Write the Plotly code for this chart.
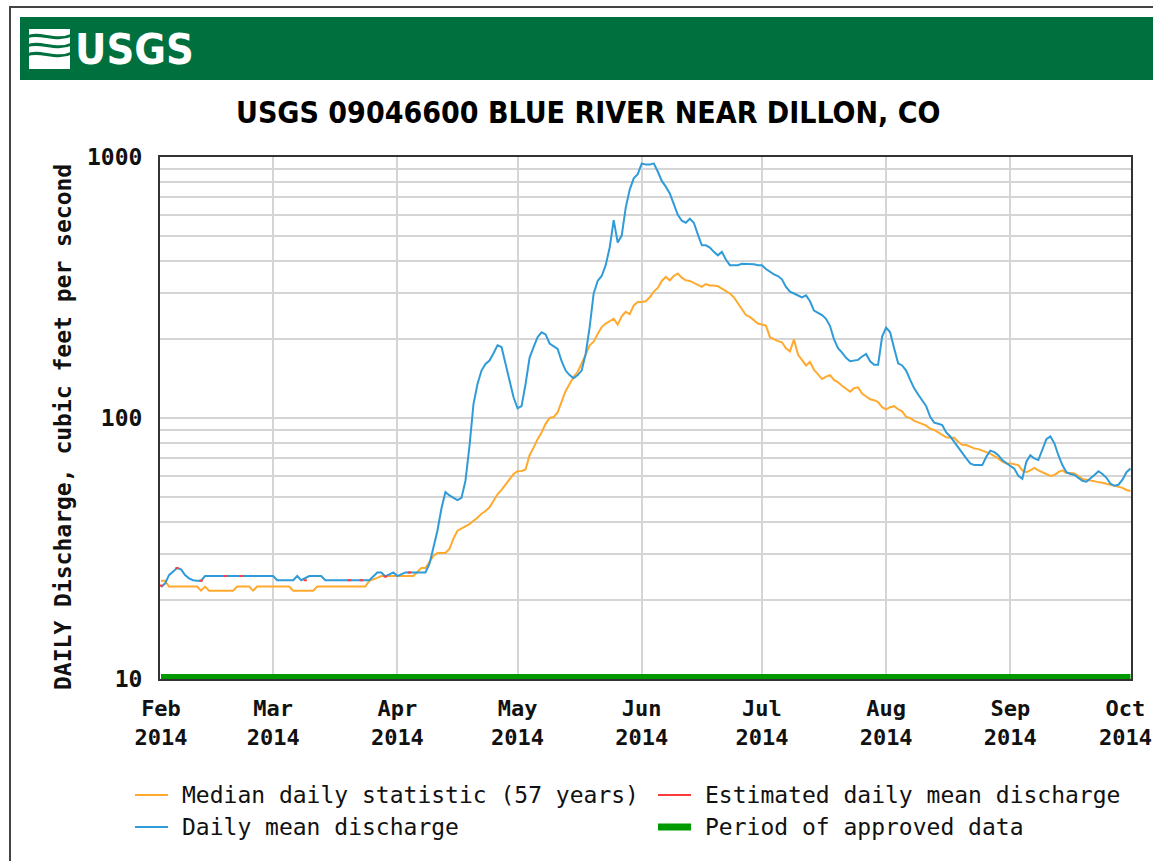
import pandas as pd
import plotly.graph_objects as go

# ---------------- data ----------------
TITLE = "USGS 09046600 BLUE RIVER NEAR DILLON, CO"
Y_TITLE = "DAILY Discharge, cubic feet per second"
START = pd.Timestamp("2014-02-01")

month_ticks = ["2014-02-01", "2014-03-01", "2014-04-01", "2014-05-01", "2014-06-01",
               "2014-07-01", "2014-08-01", "2014-09-01", "2014-10-01"]
month_labels = ["Feb<br>2014", "Mar<br>2014", "Apr<br>2014", "May<br>2014", "Jun<br>2014",
                "Jul<br>2014", "Aug<br>2014", "Sep<br>2014", "Oct<br>2014"]
y_tick_vals = [10, 100, 1000]
y_tick_text = ["10", "100", "1000"]
y_minor_vals = [20, 30, 40, 50, 60, 70, 80, 90, 200, 300, 400, 500, 600, 700, 800, 900]

# Daily mean discharge (days after 2014-02-01, cfs)
mean_days = [0, 1, 2, 3, 4, 5, 6, 7, 8, 9, 10, 11, 28, 29, 33, 34, 35, 37, 40, 41, 52, 54, 55, 56,
             58, 59, 61, 66, 67, 68, 69, 70, 71, 72, 74, 75, 76, 77, 78, 79, 80, 81, 82, 83, 84,
             85, 86, 87, 88, 89, 90, 91, 92, 93, 94, 95, 96, 97, 98, 99, 100, 101, 102, 103, 104,
             105, 106, 107, 108, 109, 110, 111, 112, 113, 114, 115, 116, 117, 118, 119, 120, 121,
             122, 123, 124, 125, 126, 127, 128, 129, 130, 131, 132, 133, 134, 135, 136, 137, 138,
             139, 140, 141, 142, 143, 144, 145, 146, 147, 148, 149, 150, 151, 152, 153, 154, 155,
             156, 157, 158, 159, 160, 161, 162, 163, 164, 165, 166, 167, 168, 169, 170, 171, 172,
             173, 174, 175, 176, 177, 178, 179, 180, 181, 182, 183, 184, 185, 186, 187, 188, 189,
             190, 191, 192, 193, 194, 195, 196, 197, 198, 199, 200, 201, 202, 203, 204, 205, 206,
             207, 208, 209, 210, 211, 212, 213, 214, 215, 216, 217, 218, 219, 220, 221, 222, 223,
             224, 225, 226, 227, 228, 229, 230, 231, 232, 233, 234, 235, 236, 237, 238, 239, 240,
             241, 242]
mean_cfs = [22.5, 23.2, 25.0, 25.8, 26.6, 26.3, 25.0, 24.3, 23.9, 23.8, 23.8, 24.8, 24.8, 23.9,
            23.9, 24.8, 23.9, 24.8, 24.8, 23.9, 23.9, 25.6, 25.6, 24.7, 25.6, 24.8, 25.6, 25.6,
            27.6, 31.9, 37, 45, 52, 50.5, 48.5, 49.4, 57.5, 78, 113, 135, 152, 161, 166, 177, 190,
            187, 162, 140, 120, 109, 111, 135, 170, 187, 204, 213, 209, 193, 188, 184, 165, 152,
            146, 142, 146, 152, 176, 223, 300, 335, 350, 385, 450, 573, 470, 500, 640, 750, 828,
            860, 945, 935, 935, 945, 880, 810, 770, 725, 660, 600, 570, 560, 580, 560, 505, 459,
            459, 450, 433, 420, 433, 405, 385, 385, 385, 390, 390, 390, 388, 385, 385, 372, 362,
            355, 350, 340, 318, 305, 300, 294, 290, 295, 280, 258, 252, 248, 240, 225, 200, 185,
            178, 170, 165, 166, 167, 172, 176, 165, 160, 160, 205, 222, 213, 185, 162, 159, 152,
            140, 130, 123, 117, 111, 101, 96, 95, 94, 88, 85, 81, 77, 74, 70, 67, 66, 66, 66, 71,
            75, 74, 72, 69, 67, 65.5, 64, 60, 58.5, 68, 72, 70, 69, 76, 83, 85, 80, 72, 66, 62,
            61, 60.5, 59, 57.5, 57, 58.5, 60.5, 62.5, 61, 59, 56, 55, 55.5, 58, 62, 64]

# Median daily statistic (57 years)
median_days = [0, 1, 2, 9, 10, 11, 12, 18, 19, 22, 23, 24, 32, 33, 38, 39, 51, 52, 54, 55, 63,
               64, 65, 66, 67, 68, 69, 70, 71, 72, 73, 74, 75, 76, 77, 78, 79, 80, 81, 82, 83, 84,
               85, 86, 87, 88, 89, 90, 91, 92, 93, 94, 95, 96, 97, 98, 99, 100, 101, 102, 103, 104,
               105, 106, 107, 108, 109, 110, 111, 112, 113, 114, 115, 116, 117, 118, 119, 120, 121,
               122, 123, 124, 125, 126, 127, 128, 129, 130, 131, 132, 133, 134, 135, 136, 137, 138,
               139, 140, 141, 142, 143, 144, 145, 146, 147, 148, 149, 150, 151, 152, 153, 154, 155,
               156, 157, 158, 159, 160, 161, 162, 163, 164, 165, 166, 167, 168, 169, 170, 171, 172,
               173, 174, 175, 176, 177, 178, 179, 180, 181, 182, 183, 184, 185, 186, 187, 188, 189,
               190, 191, 192, 193, 194, 195, 196, 197, 198, 199, 200, 201, 202, 203, 204, 205, 206,
               207, 208, 209, 210, 211, 212, 213, 214, 215, 216, 217, 218, 219, 220, 221, 222, 223,
               224, 225, 226, 227, 228, 229, 230, 231, 232, 233, 234, 235, 236, 237, 238, 239, 240,
               241, 242]
median_cfs = [23.8, 23.8, 22.6, 22.6, 21.8, 22.6, 21.8, 21.8, 22.6, 22.6, 21.8, 22.6, 22.6, 21.8,
              21.8, 22.6, 22.6, 23.8, 24.4, 24.8, 24.8, 25.6, 26.6, 26.6, 28, 29.6, 30.4, 30.4,
              30.4, 31.5, 34.5, 37, 37.8, 38.6, 39.2, 40.4, 41.5, 43, 44, 45.5, 48.2, 51, 53, 55.5,
              58.5, 61, 62.5, 62.7, 63.5, 72, 77, 83, 88, 95, 100, 100.8, 105, 115, 127, 135, 144,
              150, 161, 175, 190, 196, 210, 223, 230, 235, 240, 228, 245, 255, 250, 270, 278, 278,
              280, 290, 305, 315, 335, 347, 337, 350, 358, 345, 337, 335, 330, 325, 318, 326, 322,
              322, 320, 313, 306, 300, 290, 275, 260, 248, 244, 237, 230, 228, 226, 204, 200, 197,
              195, 185, 180, 200, 175, 167, 159, 164, 153, 147, 141, 144, 146, 140, 137, 133, 129,
              126, 130, 131, 124, 121, 118, 117, 115, 110, 108, 110, 111, 108, 106, 101, 100, 97.5,
              96.5, 95, 93.5, 91, 90, 88.2, 86, 84.3, 84, 84, 81, 79, 78.8, 77.5, 76.5, 76, 75, 74,
              73, 71.5, 70, 68, 67, 67, 66.5, 66, 63, 62, 63, 64.4, 63, 62, 61, 60, 60.5, 62, 63,
              61.6, 61.5, 61.3, 60, 58.4, 58, 57.5, 57, 56.8, 56.5, 56, 55.5, 55.1, 54.8, 54, 53,
              52.5]

# Estimated daily mean discharge (short red marks on the daily-mean line)
estimated_days = [0, 4, 10, 16, 20, 36, 47, 50, 56, 62]
estimated_cfs = [22.8, 26.6, 23.8, 24.8, 24.8, 23.9, 23.9, 23.9, 24.7, 25.6]

approved_period = ["2014-02-01", "2014-10-01"]
approved_level = [10, 10]

legend_labels = ["Median daily statistic (57 years)", "Estimated daily mean discharge",
                 "Daily mean discharge", "Period of approved data"]

# ---------------- colours / layout ----------------
C_MEDIAN = "#FFAA2E"
C_MEAN = "#2F9BD8"
C_EST = "#FF3B3B"
C_APPROVED = "#009A00"
C_HEADER = "#00703F"
GRID = "#D5D5D5"
MONO = "DejaVu Sans Mono"
NARROW = "DejaVu Sans Condensed, Liberation Sans Narrow, sans-serif"

W, H = 1153, 861
L, R, T, B = 160, 1131, 157, 679


def px(x):
    return (x - L) / (R - L)


def py(y):
    return (B - y) / (B - T)


def to_dates(days):
    return [START + pd.Timedelta(days=d) for d in days]


est_x, est_y = [], []
for d, v in zip(estimated_days, estimated_cfs):
    est_x += [START + pd.Timedelta(hours=24 * d - 10), START + pd.Timedelta(hours=24 * d + 10), None]
    est_y += [v, v, None]

fig = go.Figure()
fig.add_trace(go.Scatter(x=approved_period, y=approved_level, mode="lines",
                         line=dict(color=C_APPROVED, width=10), name=legend_labels[3]))
fig.add_trace(go.Scatter(x=to_dates(median_days), y=median_cfs, mode="lines",
                         line=dict(color=C_MEDIAN, width=2), name=legend_labels[0]))
fig.add_trace(go.Scatter(x=to_dates(mean_days), y=mean_cfs, mode="lines",
                         line=dict(color=C_MEAN, width=2), name=legend_labels[2]))
fig.add_trace(go.Scatter(x=est_x, y=est_y, mode="lines", connectgaps=False,
                         line=dict(color=C_EST, width=2), name=legend_labels[1]))

shapes = []
annotations = []

# outer frame
shapes.append(dict(type="rect", xref="paper", yref="paper", x0=px(10), x1=px(1170),
                   y0=py(7), y1=py(880), line=dict(color="#444444", width=2),
                   fillcolor="rgba(0,0,0,0)", layer="below"))
# green header band
shapes.append(dict(type="rect", xref="paper", yref="paper", x0=px(20), x1=px(1160),
                   y0=py(17), y1=py(80), line=dict(width=0), fillcolor=C_HEADER, layer="below"))
# logo wave icon
shapes.append(dict(type="rect", xref="paper", yref="paper", x0=px(29), x1=px(70),
                   y0=py(29), y1=py(69), line=dict(width=0), fillcolor="white", layer="below"))


def wave(y0, dy):
    pts = [(27, y0), (40, y0 - dy), (55, y0 + dy), (72, y0 - 2)]
    return "M {},{} C {},{} {},{} {},{}".format(
        px(pts[0][0]), py(pts[0][1]), px(pts[1][0]), py(pts[1][1]),
        px(pts[2][0]), py(pts[2][1]), px(pts[3][0]), py(pts[3][1]))


for yy in (37, 46, 55):
    shapes.append(dict(type="path", xref="paper", yref="paper", path=wave(yy, 6),
                       line=dict(color=C_HEADER, width=3), layer="below"))

annotations.append(dict(text="<b>USGS</b>", x=px(73), y=py(49), xref="paper", yref="paper",
                        xanchor="left", yanchor="middle", showarrow=False,
                        font=dict(family=NARROW, size=43, color="white")))
# title
annotations.append(dict(text="<b>" + TITLE + "</b>", x=px(588), y=py(113), xref="paper",
                        yref="paper", xanchor="center", yanchor="middle", showarrow=False,
                        font=dict(family=NARROW, size=30, color="black")))
# y-axis title
annotations.append(dict(text="<b>" + Y_TITLE + "</b>", x=px(63), y=py(427), xref="paper",
                        yref="paper", xanchor="center", yanchor="middle", showarrow=False,
                        textangle=-90, font=dict(family=MONO, size=23, color="#111111")))

# last month label drawn at the axis end, nudged left so it stays inside the page
tick_text_shown = month_labels[:-1] + [""]
annotations.append(dict(text="<b>" + month_labels[-1] + "</b>", x=month_ticks[-1], xref="x",
                        xshift=-5, y=py(723), yref="paper", xanchor="center", yanchor="middle",
                        showarrow=False, align="center",
                        font=dict(family=MONO, size=22, color="#111111")))

# manual legend
leg = [
    (135, 795, C_MEDIAN, 2, legend_labels[0]),
    (658, 795, C_EST, 2, legend_labels[1]),
    (135, 827, C_MEAN, 2, legend_labels[2]),
    (658, 827, C_APPROVED, 7, legend_labels[3]),
]
for x0, yy, col, wdt, lab in leg:
    shapes.append(dict(type="line", xref="paper", yref="paper", x0=px(x0), x1=px(x0 + 33),
                       y0=py(yy), y1=py(yy), line=dict(color=col, width=wdt)))
    annotations.append(dict(text=lab, x=px(x0 + 45), y=py(yy), xref="paper", yref="paper",
                            xanchor="left", yanchor="middle", showarrow=False,
                            font=dict(family=MONO, size=23, color="#111111")))

fig.update_layout(
    width=W, height=H,
    margin=dict(l=L, r=W - R, t=T, b=H - B, pad=0, autoexpand=False),
    paper_bgcolor="white", plot_bgcolor="white",
    showlegend=False,
    shapes=shapes, annotations=annotations,
    xaxis=dict(type="date", range=["2014-01-31 18:00", "2014-10-01 03:00"],
               tickmode="array", tickvals=month_ticks, ticktext=tick_text_shown,
               showgrid=True, gridcolor=GRID, gridwidth=2, zeroline=False,
               showline=True, mirror=True, linecolor="#333333", linewidth=2,
               ticks="", ticklabelstandoff=9, automargin=False,
               tickfont=dict(family=MONO, size=22, color="#111111", weight="bold")),
    yaxis=dict(type="log", range=[1, 3], tickmode="array", tickvals=y_tick_vals,
               ticktext=y_tick_text, showgrid=True, gridcolor=GRID, gridwidth=2,
               minor=dict(tickmode="array", tickvals=y_minor_vals, showgrid=True,
                          gridcolor=GRID, gridwidth=2, ticks=""),
               zeroline=False, showline=True, mirror=True, linecolor="#333333", linewidth=2,
               ticks="", ticklabelstandoff=11, automargin=False,
               tickfont=dict(family=MONO, size=23, color="#111111", weight="bold")),
)

fig.write_html("out.html", config={"displayModeBar": False},
               post_script="document.body.style.margin='0';document.body.style.overflow='hidden';")
